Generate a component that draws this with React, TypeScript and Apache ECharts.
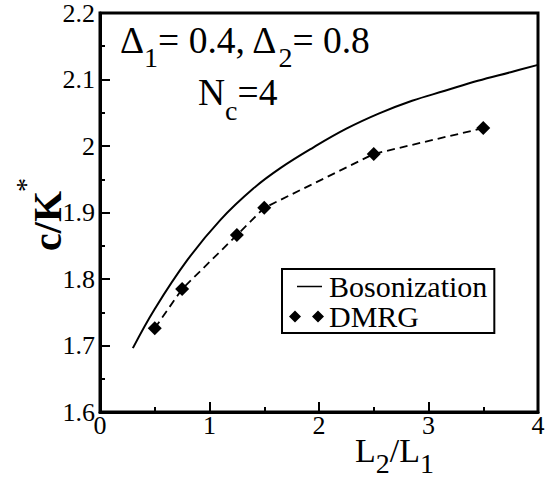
import React, { useEffect, useRef } from 'react';
import * as echarts from 'echarts';

const bosonX = [0.3, 0.5, 0.8, 1.1, 1.4, 1.65, 1.95, 2.25, 2.55, 2.85, 3.15, 3.45, 3.75, 4.0];
const bosonY = [1.696, 1.755, 1.829, 1.889, 1.936, 1.967, 1.998, 2.026, 2.049, 2.068, 2.083, 2.098, 2.111, 2.122];
const dmrgX = [0.5, 0.75, 1.25, 1.5, 2.5, 3.5];
const dmrgY = [1.726, 1.785, 1.866, 1.907, 1.988, 2.027];
const seriesNames = ['Bosonization', 'DMRG'];

const FONT = "'Liberation Serif', 'Times New Roman', 'DejaVu Serif', serif";

export default function App() {
  const ref = useRef<HTMLDivElement>(null);
  useEffect(() => {
    if (!ref.current) return;
    const chart = echarts.init(ref.current, undefined, { renderer: 'svg' });
    const F = 37.5;
    const S = 28;
    const k = 0.8375;
    const mStyle = { fontSize: F, lineHeight: F, verticalAlign: 'top', fontFamily: FONT, fill: '#000' };
    const sStyle = (shift: number) => ({
      fontSize: S,
      lineHeight: S,
      verticalAlign: 'top',
      fontFamily: FONT,
      fill: '#000',
      padding: [k * (F - S) + shift, 0, 0, 0],
    });
    const XF = 34;
    const XS = 28;
    chart.setOption({
      animation: false,
      textStyle: { fontFamily: FONT },
      grid: { left: 100, right: 12, top: 13, bottom: 67, show: true, borderColor: '#000', borderWidth: 3 },
      xAxis: {
        type: 'value',
        min: 0,
        max: 4,
        interval: 1,
        axisLine: { show: true, onZero: false, lineStyle: { color: '#000', width: 3 } },
        axisTick: { show: true, inside: true, length: 10, lineStyle: { color: '#000', width: 2 } },
        minorTick: { show: true, splitNumber: 2, length: 5, lineStyle: { color: '#000', width: 2 } },
        splitLine: { show: false },
        minorSplitLine: { show: false },
        axisLabel: { fontFamily: FONT, fontSize: 26, color: '#000', margin: 0 },
      },
      yAxis: {
        type: 'value',
        min: 1.6,
        max: 2.2,
        interval: 0.1,
        axisLine: { show: true, onZero: false, lineStyle: { color: '#000', width: 3 } },
        axisTick: { show: true, inside: true, length: 10, lineStyle: { color: '#000', width: 2 } },
        minorTick: { show: true, splitNumber: 2, length: 5, lineStyle: { color: '#000', width: 2 } },
        splitLine: { show: false },
        minorSplitLine: { show: false },
        axisLabel: {
          fontFamily: FONT,
          fontSize: 26,
          color: '#000',
          margin: 5,
          formatter: (v: number) => String(Math.round(v * 10) / 10),
        },
      },
      legend: {
        left: 282,
        top: 269,
        orient: 'vertical',
        borderColor: '#000',
        borderWidth: 2,
        borderRadius: 0,
        padding: [2.5, 7, 1.5, 7],
        itemGap: 0,
        itemWidth: 35,
        itemHeight: 12,
        textStyle: { fontFamily: FONT, fontSize: 30, color: '#000', lineHeight: 27 },
        data: [
          { name: seriesNames[0], icon: 'path://M0,0L0.01,0L0,0.01Z M35,12L34.99,12L35,11.99Z M8,5.2H33V6.8H8Z' },
          { name: seriesNames[1], icon: 'path://M0,6L6,0L12,6L6,12Z M23,6L29,0L35,6L29,12Z' },
        ],
      },
      series: [
        {
          name: seriesNames[0],
          type: 'line',
          data: bosonX.map((x, i) => [x, bosonY[i]]),
          symbol: 'none',
          showSymbol: false,
          smooth: 0.4,
          color: '#000',
          lineStyle: { color: '#000', width: 2 },
          itemStyle: { color: '#000' },
        },
        {
          name: seriesNames[1],
          type: 'line',
          data: dmrgX.map((x, i) => [x, dmrgY[i]]),
          symbol: 'diamond',
          symbolSize: 14,
          color: '#000',
          lineStyle: { color: '#000', width: 1.8, type: [8, 5] },
          itemStyle: { color: '#000' },
        },
      ],
      graphic: [
        {
          type: 'text',
          x: 120,
          y: 53 - k * F,
          style: {
            text: '{m|Δ}{s|1}{m|= 0.4, Δ}{t|2}{m|= 0.8}',
            rich: { m: mStyle, s: sStyle(14), t: sStyle(14) },
            fontFamily: FONT,
            verticalAlign: 'top',
            align: 'left',
          },
        },
        {
          type: 'text',
          x: 198,
          y: 105 - k * F,
          style: {
            text: '{m|N}{s|c}{m|=4}',
            rich: { m: mStyle, s: sStyle(15) },
            fontFamily: FONT,
            verticalAlign: 'top',
            align: 'left',
          },
        },
        {
          type: 'text',
          x: 355,
          y: 462 - k * XF,
          style: {
            text: '{m|L}{s|2}{m|/L}{s|1}',
            fontFamily: FONT,
            rich: {
              m: { fontSize: XF, lineHeight: XF, verticalAlign: 'top', fontFamily: FONT, fill: '#000' },
              s: {
                fontSize: XS,
                lineHeight: XS,
                verticalAlign: 'top',
                fontFamily: FONT,
                fill: '#000',
                padding: [k * (XF - XS) + 11, 0, 0, 0],
              },
            },
            verticalAlign: 'top',
            align: 'left',
          },
        },
        {
          type: 'text',
          x: 47,
          y: 221,
          rotation: Math.PI / 2,
          style: {
            text: 'c/K',
            fontFamily: FONT,
            fontSize: 40,
            fontWeight: 'bold',
            fill: '#000',
            align: 'center',
            verticalAlign: 'middle',
          },
        },
        {
          type: 'text',
          x: 25,
          y: 185,
          rotation: Math.PI / 2,
          style: {
            text: '*',
            fontFamily: FONT,
            fontSize: 28,
            fill: '#000',
            align: 'center',
            verticalAlign: 'middle',
          },
        },
      ],
    });
    return () => chart.dispose();
  }, []);
  return (
    <div
      ref={ref}
      style={{ position: 'fixed', left: 0, top: 0, width: 550, height: 479, background: '#fff' }}
    />
  );
}
